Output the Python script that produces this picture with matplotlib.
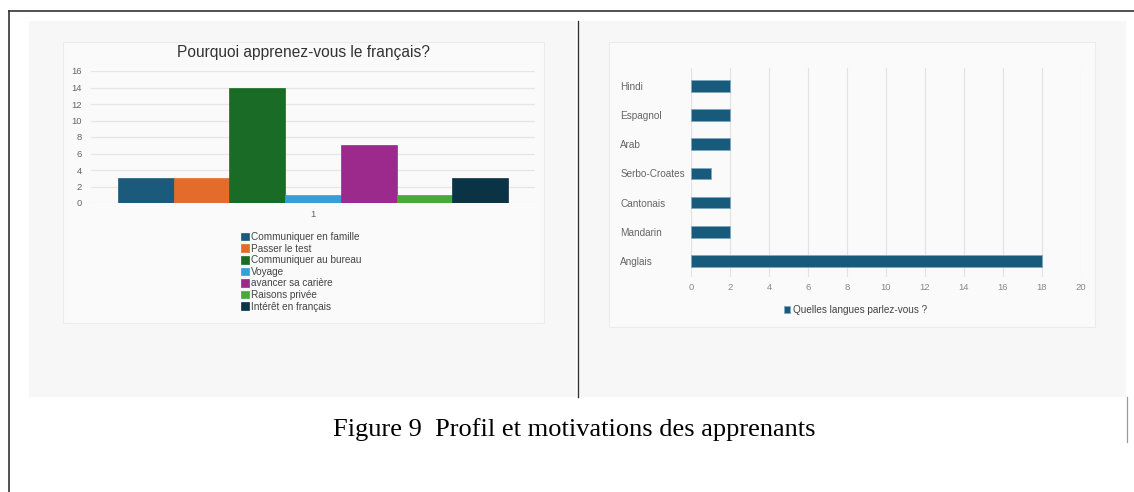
import matplotlib
matplotlib.use("Agg")
import matplotlib.pyplot as plt
from matplotlib.patches import Rectangle
from matplotlib.lines import Line2D
import numpy as np

# data
motifs = ["Communiquer en famille", "Passer le test", "Communiquer au bureau",
          "Voyage", "avancer sa carière", "Raisons privée", "Intérêt en français"]
motif_counts = [3, 3, 14, 1, 7, 1, 3]
motif_colors = ["#1b5a7a", "#e36c2c", "#1a6b26", "#35a0d8", "#9b2a8c", "#4aa83a", "#0a3446"]

langues = ["Hindi", "Espagnol", "Arab", "Serbo-Croates", "Cantonais", "Mandarin", "Anglais"]
langue_counts = [2, 2, 2, 1, 2, 2, 18]

W, H = 1134, 492
plt.rcParams['font.family'] = ['Liberation Sans', 'DejaVu Sans']

fig = plt.figure(figsize=(W / 100, H / 100), dpi=100)
fig.patch.set_facecolor("white")


def box(x0, y0, x1, y1):
    # pixel box (top-left origin) -> figure fraction rect
    return [x0 / W, 1 - y1 / H, (x1 - x0) / W, (y1 - y0) / H]


def frect(x0, y0, x1, y1, **kw):
    l, b, w, h = box(x0, y0, x1, y1)
    fig.patches.append(Rectangle((l, b), w, h, transform=fig.transFigure, **kw))


def fline(xs, ys, **kw):
    fig.lines.append(Line2D([x / W for x in xs], [1 - y / H for y in ys],
                            transform=fig.transFigure, **kw))


# page background pieces
frect(29, 21, 576, 397, facecolor="#f7f7f7", edgecolor="none", zorder=0)
frect(580, 21, 1126, 397, facecolor="#f7f7f7", edgecolor="none", zorder=0)
frect(63, 42, 544, 323, facecolor="#fafafa", edgecolor="#ebebeb", linewidth=0.8, zorder=0)
frect(609, 42, 1095, 327, facecolor="#fafafa", edgecolor="#ebebeb", linewidth=0.8, zorder=0)

fline([9, 9], [11, 492], color="#333333", linewidth=1.2)
fline([9, 1134], [11, 11], color="#333333", linewidth=1.2)
fline([578, 578], [21, 397], color="#333333", linewidth=1.0)
fline([1127, 1127], [397, 442], color="#999999", linewidth=0.9)

# ---- left chart ----
ax1 = fig.add_axes(box(91, 71, 535, 203))
ax1.set_zorder(2)
ax1.set_facecolor("none")
pos = np.arange(len(motifs)) - (len(motifs) - 1) / 2
bars = ax1.bar(pos, motif_counts, width=1.0, color=motif_colors,
               edgecolor=motif_colors, linewidth=0.5, zorder=3)
ax1.set_xlim(-3.985, 3.985)
ax1.set_ylim(0, 16)
ax1.set_yticks(range(0, 17, 2))
ax1.set_xticks([0])
ax1.set_xticklabels(["1"])
ax1.grid(axis="y", color="#e6e6e6", linewidth=0.9, zorder=0)
for s in ax1.spines.values():
    s.set_visible(False)
ax1.tick_params(axis="both", length=0, labelsize=6.8, labelcolor="#666666")
ax1.tick_params(axis="y", pad=6.5)
ax1.tick_params(axis="x", pad=5)
fig.text(303.5 / W, 1 - 52 / H, "Pourquoi apprenez-vous le français?",
         ha="center", va="center", fontsize=11.2, color="#333333", zorder=3)
ax1.legend(bars, motifs, loc="upper left", bbox_to_anchor=(241 / W, 1 - 232 / H),
           bbox_transform=fig.transFigure, frameon=False, fontsize=7.2,
           handlelength=0.8, handleheight=0.8, handletextpad=0.2,
           labelspacing=0.16, borderpad=0, borderaxespad=0, labelcolor="#444444")

# ---- right chart ----
ax2 = fig.add_axes(box(691, 68, 1081, 277))
ax2.set_zorder(2)
ax2.set_facecolor("none")
ypos = np.arange(len(langues))
hb = ax2.barh(ypos, langue_counts, height=0.4, color="#175a7c",
              edgecolor="#7fa9c0", linewidth=0.6, zorder=3,
              label="Quelles langues parlez-vous ?")
ax2.set_xlim(0, 20)
ax2.set_ylim(len(langues) - 1 + 0.55, -0.617)
ax2.set_xticks(range(0, 21, 2))
ax2.set_yticks(ypos)
ax2.set_yticklabels(langues)
ax2.grid(axis="x", color="#e3e3e3", linewidth=0.9, zorder=0)
for s in ax2.spines.values():
    s.set_visible(False)
ax2.tick_params(axis="both", length=0, labelcolor="#666666")
ax2.tick_params(axis="x", labelsize=6.8, pad=4, labelcolor="#888888")
ax2.tick_params(axis="y", labelsize=7.2, pad=51)
for lbl in ax2.get_yticklabels():
    lbl.set_ha("left")
ax2.legend(loc="center left", bbox_to_anchor=(784 / W, 1 - 310 / H),
           bbox_transform=fig.transFigure, frameon=False, fontsize=7.2,
           handlelength=0.6, handleheight=0.6, handletextpad=0.3,
           borderpad=0, borderaxespad=0, labelcolor="#444444")

# caption
fig.text(574 / W, 1 - 436 / H, "Figure 9  Profil et motivations des apprenants",
         ha="center", va="baseline", fontsize=19, family="Liberation Serif",
         color="black", zorder=3)

fig.savefig("out.png", dpi=100)
